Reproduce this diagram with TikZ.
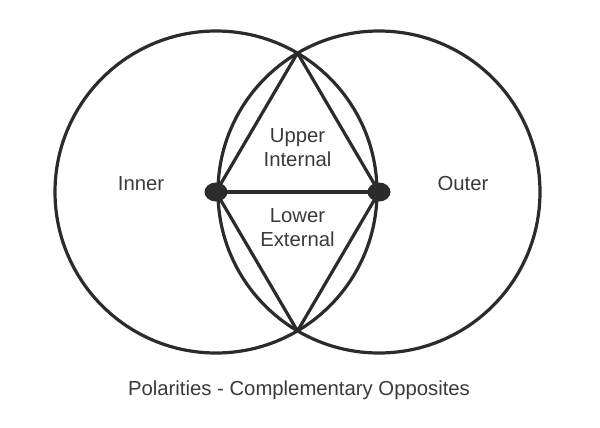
\documentclass[tikz,border=0pt]{standalone}
\usepackage{fontspec}
\setmainfont{Liberation Sans}
\usetikzlibrary{shapes.geometric}
\definecolor{ink}{HTML}{2B2B2B}
\definecolor{txt}{HTML}{3A3A3A}

\begin{document}
\begin{tikzpicture}[
    x=1pt, y=-1pt,
    ring/.style={circle, draw=ink, line width=3.2pt, minimum size=322pt, inner sep=0pt},
    pole/.style={ellipse, fill=ink, minimum width=23pt, minimum height=19pt, inner sep=0pt},
    edge/.style={draw=ink, line width=3.2pt, line join=round},
    word/.style={font=\fontsize{20.3}{24}\selectfont, text=txt, align=center}
]
    \useasboundingbox (0,0) rectangle (600,428);

    % The two circles
    \node[ring] (inner ring) at (216,192) {};
    \node[ring] (outer ring) at (379,192) {};

    % Crossing points of the circles
    \coordinate (top) at (297.5,53);
    \coordinate (bottom) at (297.5,331);

    % Triangles
    \draw[edge] (216,192) -- (top) -- (379,192) -- (bottom) -- cycle;
    \draw[edge] (216,192) -- (379,192);

    % Poles
    \node[pole] (inner pole) at (216,192) {};
    \node[pole] (outer pole) at (379,192) {};

    % Labels
    \node[word] (inner) at (141,184) {Inner};
    \node[word] (outer) at (463,184) {Outer};
    \node[word] (upper) at (297.5,148) {Upper\\Internal};
    \node[word] (lower) at (297.5,228) {Lower\\External};
    \node[word] (title) at (299,390) {Polarities - Complementary Opposites};
\end{tikzpicture}
\end{document}
